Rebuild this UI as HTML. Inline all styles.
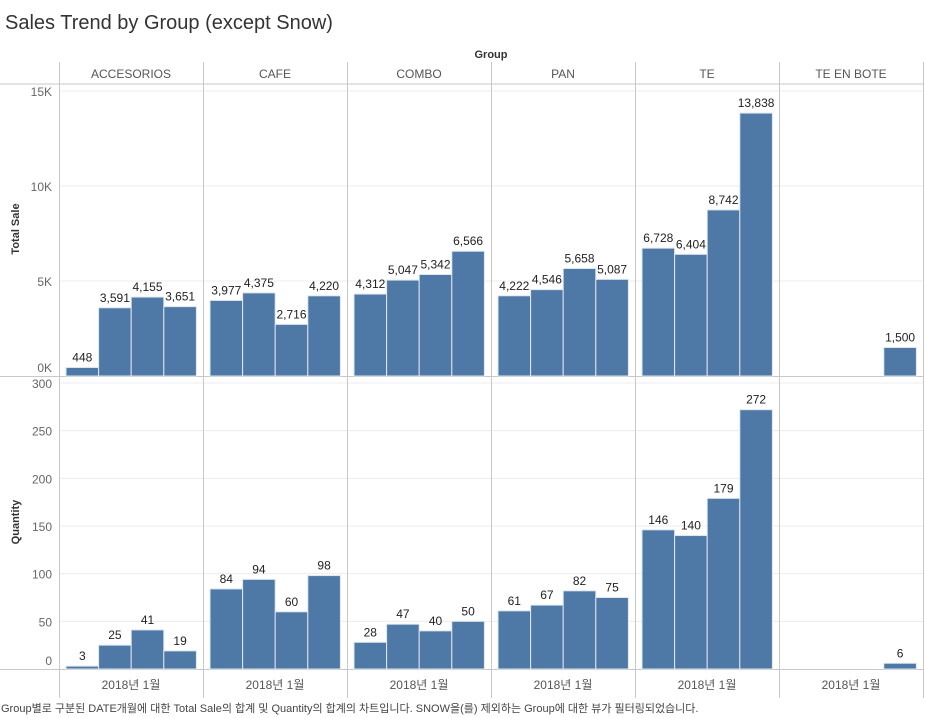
<!DOCTYPE html>
<html><head><meta charset="utf-8">
<style>
body{margin:0;background:#fff;width:925px;height:718px;overflow:hidden;font-family:"Liberation Sans","Noto Sans CJK KR",sans-serif;}
svg{display:block}
</style></head>
<body>
<svg id="c" width="925" height="718"></svg>
<script>
const groups=["ACCESORIOS","CAFE","COMBO","PAN","TE","TE EN BOTE"];
const sales=[[448,3591,4155,3651],[3977,4375,2716,4220],[4312,5047,5342,6566],[4222,4546,5658,5087],[6728,6404,8742,13838],[null,null,null,1500]];
const qty=[[3,25,41,19],[84,94,60,98],[28,47,40,50],[61,67,82,75],[146,140,179,272],[null,null,null,6]];
const salesTicks=[0,5000,10000,15000];
const salesTickLabels=["0K","5K","10K","15K"];
const qtyTicks=[0,50,100,150,200,250,300];
const xLabel="2018년 1월";
const NS="http://www.w3.org/2000/svg";
const svg=document.getElementById('c');
function el(t,a,txt){const e=document.createElementNS(NS,t);for(const k in a)e.setAttribute(k,a[k]);if(txt!==undefined)e.textContent=txt;svg.appendChild(e);return e;}
const colX=i=>59+i*144;
const ySales=v=>376-v*(285/15000);
const yQty=v=>669-v*(286/300);
const SW=32.6;
const slotX=(g,m)=>colX(g)+7+m*SW;
const fmt=v=>v.toLocaleString('en-US');
let t=el('text',{x:5,y:29,'font-size':20,fill:'#333'},"Sales Trend by Group (except Snow)");


t=el('text',{x:491,y:58,'font-size':11,'font-weight':'bold','text-anchor':'middle',fill:'#333'},"Group");


salesTicks.forEach((v,i)=>{
  if(v>0){const g=el('line',{x1:59,x2:923,y1:ySales(v),y2:ySales(v),stroke:'#ececec'});
  
  }
  const l=el('text',{x:52,y:ySales(v)+(v===0?-4:5),'font-size':12,'text-anchor':'end',fill:'#666'},salesTickLabels[i]);
  
  
});
qtyTicks.forEach(v=>{
  if(v>0){const g=el('line',{x1:59,x2:923,y1:yQty(v),y2:yQty(v),stroke:'#ececec'});
  
  }
  const l=el('text',{x:52,y:yQty(v)+(v===0?-4:5),'font-size':12,'text-anchor':'end',fill:'#666'},String(v));
  
  
});
el('line',{x1:0,x2:923,y1:84,y2:84,stroke:'#c8c8c8'});
el('line',{x1:0,x2:923,y1:376.5,y2:376.5,stroke:'#c8c8c8'});
el('line',{x1:0,x2:923,y1:669.5,y2:669.5,stroke:'#c8c8c8'});
for(let i=0;i<=6;i++){el('line',{x1:colX(i)+0.5,x2:colX(i)+0.5,y1:62,y2:698,stroke:'#c8c8c8'});}
let a=el('text',{transform:'translate(19,229) rotate(-90)','font-size':11,'font-weight':'bold','text-anchor':'middle',fill:'#333'},"Total Sale");


a=el('text',{transform:'translate(19,522) rotate(-90)','font-size':11,'font-weight':'bold','text-anchor':'middle',fill:'#333'},"Quantity");


groups.forEach((g,i)=>{
  const h=el('text',{x:colX(i)+72,y:78,'font-size':12,'text-anchor':'middle',fill:'#555'},g);
  
  
  const xl=el('text',{x:colX(i)+72,y:689,'font-size':12,'text-anchor':'middle',fill:'#555'},xLabel);
  
  
  for(let m=0;m<4;m++){
    [[sales,ySales,376],[qty,yQty,669]].forEach(([arr,fy,base],k)=>{
      const v=arr[i][m]; if(v===null)return;
      const x=slotX(i,m),y=fy(v);
      const r=el('rect',{x:x,y:y,width:SW,height:base-y,fill:'#4e79a7',stroke:'#dfe6ee','stroke-width':1});
      
      
      const lb=el('text',{x:x+SW/2,y:y-6,'font-size':12,'text-anchor':'middle',fill:'#222'},fmt(v));
      
      
    });
  }
});
t=el('text',{x:1,y:712,'font-size':11,fill:'#444'},"Group별로 구분된 DATE개월에 대한 Total Sale의 합계 및 Quantity의 합계의 차트입니다. SNOW을(를) 제외하는 Group에 대한 뷰가 필터링되었습니다.");


</script>
</body></html>
